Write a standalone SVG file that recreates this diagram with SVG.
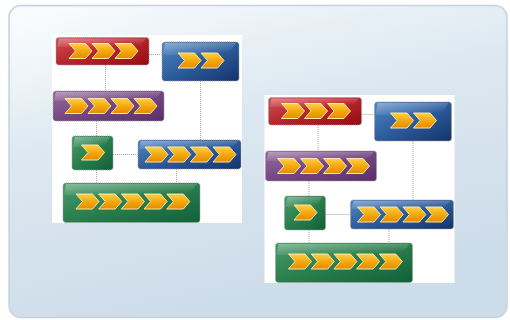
<svg xmlns="http://www.w3.org/2000/svg" xmlns:xlink="http://www.w3.org/1999/xlink" width="510" height="320" viewBox="0 0 510 320">
<defs>
<linearGradient id="bg" x1="0" y1="0" x2="0.35" y2="1">
<stop offset="0" stop-color="#f7fafc"/>
<stop offset="0.45" stop-color="#dce8f1"/>
<stop offset="1" stop-color="#cddce9"/>
</linearGradient>
<linearGradient id="gl" x1="0" y1="0" x2="1" y2="0.6">
<stop offset="0" stop-color="#ffffff" stop-opacity="0.8"/>
<stop offset="0.4" stop-color="#ffffff" stop-opacity="0.2"/>
<stop offset="1" stop-color="#ffffff" stop-opacity="0"/>
</linearGradient>
<linearGradient id="gRed" x1="0" y1="0" x2="1" y2="1">
<stop offset="0" stop-color="#cd5055"/>
<stop offset="0.5" stop-color="#b5262c"/>
<stop offset="1" stop-color="#960a10"/>
</linearGradient>
<linearGradient id="gBlue" x1="0" y1="0" x2="1" y2="1">
<stop offset="0" stop-color="#4f85c3"/>
<stop offset="0.5" stop-color="#2c5c9c"/>
<stop offset="1" stop-color="#15336a"/>
</linearGradient>
<linearGradient id="gPurple" x1="0" y1="0" x2="1" y2="1">
<stop offset="0" stop-color="#956b9f"/>
<stop offset="0.5" stop-color="#754782"/>
<stop offset="1" stop-color="#5a2f68"/>
</linearGradient>
<linearGradient id="gGreen" x1="0" y1="0" x2="1" y2="1">
<stop offset="0" stop-color="#479a6a"/>
<stop offset="0.5" stop-color="#2a7d4c"/>
<stop offset="1" stop-color="#11603a"/>
</linearGradient>
<linearGradient id="gChev" x1="0" y1="0" x2="0" y2="1">
<stop offset="0" stop-color="#fcd04a"/>
<stop offset="0.5" stop-color="#f4a90e"/>
<stop offset="1" stop-color="#e58a00"/>
</linearGradient>
<linearGradient id="gShine" x1="0" y1="0" x2="0.6" y2="1">
<stop offset="0" stop-color="#ffffff" stop-opacity="0.35"/>
<stop offset="1" stop-color="#ffffff" stop-opacity="0"/>
</linearGradient>
<polygon id="chev" points="0,-7.5 16.5,-7.5 23,0 16.5,7.5 0,7.5 6.5,0" fill="url(#gChev)" stroke="#fbe7a6" stroke-width="1"/>
<style>
.box{stroke:#9c9c9c;stroke-width:1;stroke-dasharray:1 1}
.shine{fill:url(#gShine)}
.con line{stroke:#a5a5a5;stroke-width:1;stroke-dasharray:1 1;fill:none}
.sheet{fill:#ffffff}
</style>
</defs>

<g id="background">
<rect x="9" y="5.5" width="498" height="312" rx="12" fill="url(#bg)" stroke="#c4d3df" stroke-width="1.5"/>
<path d="M21,8 H300 Q150,60 12,120 V20 Q12,8 21,8 Z" fill="url(#gl)" opacity="0.6"/>
</g>

<g id="diagram-left">
<rect class="sheet" x="52" y="35" width="190" height="188"/>
<g class="con" id="connectors-left">
<line x1="149" y1="54.5" x2="162" y2="54.5"/>
<line x1="105.5" y1="65" x2="105.5" y2="91"/>
<line x1="200.5" y1="81" x2="200.5" y2="140"/>
<line x1="96.5" y1="121" x2="96.5" y2="136"/>
<line x1="113" y1="154.5" x2="138" y2="154.5"/>
<line x1="96.5" y1="170" x2="96.5" y2="183"/>
<line x1="176.5" y1="169" x2="176.5" y2="183"/>
</g>
<g id="l-red">
<rect class="box" x="56" y="37.5" width="93" height="27.5" rx="3" fill="url(#gRed)"/>
<path class="shine" d="M59,38.5 H146 L140,47 H57 Z"/>
<use href="#chev" x="69" y="51"/><use href="#chev" x="92" y="51"/><use href="#chev" x="115" y="51"/>
</g>
<g id="l-blue-top">
<rect class="box" x="162" y="42" width="77" height="39" rx="3" fill="url(#gBlue)"/>
<path class="shine" d="M165,43 H236 L228,55 H163 Z"/>
<use href="#chev" x="178" y="60.5"/><use href="#chev" x="201" y="60.5"/>
</g>
<g id="l-purple">
<rect class="box" x="53" y="91" width="111" height="30" rx="3" fill="url(#gPurple)"/>
<path class="shine" d="M56,92 H161 L154,101 H54 Z"/>
<use href="#chev" x="65" y="106"/><use href="#chev" x="88" y="106"/><use href="#chev" x="111" y="106"/><use href="#chev" x="134" y="106"/>
</g>
<g id="l-green-small">
<rect class="box" x="72" y="136" width="41" height="34" rx="3" fill="url(#gGreen)"/>
<path class="shine" d="M75,137 H110 L104,147 H73 Z"/>
<use href="#chev" x="81.5" y="152.5"/>
</g>
<g id="l-blue-mid">
<rect class="box" x="138" y="140" width="103" height="29" rx="3" fill="url(#gBlue)"/>
<path class="shine" d="M141,141 H238 L231,149 H139 Z"/>
<use href="#chev" x="145" y="154.5"/><use href="#chev" x="167.7" y="154.5"/><use href="#chev" x="190.4" y="154.5"/><use href="#chev" x="213" y="154.5"/>
</g>
<g id="l-green-big">
<rect class="box" x="63" y="183" width="137" height="39.5" rx="3" fill="url(#gGreen)"/>
<path class="shine" d="M66,184 H197 L188,195 H64 Z"/>
<use href="#chev" x="76" y="201.5"/><use href="#chev" x="98.7" y="201.5"/><use href="#chev" x="121.4" y="201.5"/><use href="#chev" x="144.1" y="201.5"/><use href="#chev" x="166.8" y="201.5"/>
</g>
</g>

<g id="diagram-right" transform="translate(212.5,60)">
<rect class="sheet" x="52" y="35" width="190" height="188"/>
<g class="con" id="connectors-right">
<line x1="149" y1="54.5" x2="162" y2="54.5"/>
<line x1="105.5" y1="65" x2="105.5" y2="91"/>
<line x1="200.5" y1="81" x2="200.5" y2="140"/>
<line x1="96.5" y1="121" x2="96.5" y2="136"/>
<line x1="113" y1="154.5" x2="138" y2="154.5"/>
<line x1="96.5" y1="170" x2="96.5" y2="183"/>
<line x1="176.5" y1="169" x2="176.5" y2="183"/>
</g>
<g id="r-red">
<rect class="box" x="56" y="37.5" width="93" height="27.5" rx="3" fill="url(#gRed)"/>
<path class="shine" d="M59,38.5 H146 L140,47 H57 Z"/>
<use href="#chev" x="69" y="51"/><use href="#chev" x="92" y="51"/><use href="#chev" x="115" y="51"/>
</g>
<g id="r-blue-top">
<rect class="box" x="162" y="42" width="77" height="39" rx="3" fill="url(#gBlue)"/>
<path class="shine" d="M165,43 H236 L228,55 H163 Z"/>
<use href="#chev" x="178" y="60.5"/><use href="#chev" x="201" y="60.5"/>
</g>
<g id="r-purple">
<rect class="box" x="53" y="91" width="111" height="30" rx="3" fill="url(#gPurple)"/>
<path class="shine" d="M56,92 H161 L154,101 H54 Z"/>
<use href="#chev" x="65" y="106"/><use href="#chev" x="88" y="106"/><use href="#chev" x="111" y="106"/><use href="#chev" x="134" y="106"/>
</g>
<g id="r-green-small">
<rect class="box" x="72" y="136" width="41" height="34" rx="3" fill="url(#gGreen)"/>
<path class="shine" d="M75,137 H110 L104,147 H73 Z"/>
<use href="#chev" x="81.5" y="152.5"/>
</g>
<g id="r-blue-mid">
<rect class="box" x="138" y="140" width="103" height="29" rx="3" fill="url(#gBlue)"/>
<path class="shine" d="M141,141 H238 L231,149 H139 Z"/>
<use href="#chev" x="145" y="154.5"/><use href="#chev" x="167.7" y="154.5"/><use href="#chev" x="190.4" y="154.5"/><use href="#chev" x="213" y="154.5"/>
</g>
<g id="r-green-big">
<rect class="box" x="63" y="183" width="137" height="39.5" rx="3" fill="url(#gGreen)"/>
<path class="shine" d="M66,184 H197 L188,195 H64 Z"/>
<use href="#chev" x="76" y="201.5"/><use href="#chev" x="98.7" y="201.5"/><use href="#chev" x="121.4" y="201.5"/><use href="#chev" x="144.1" y="201.5"/><use href="#chev" x="166.8" y="201.5"/>
</g>
</g>
</svg>
